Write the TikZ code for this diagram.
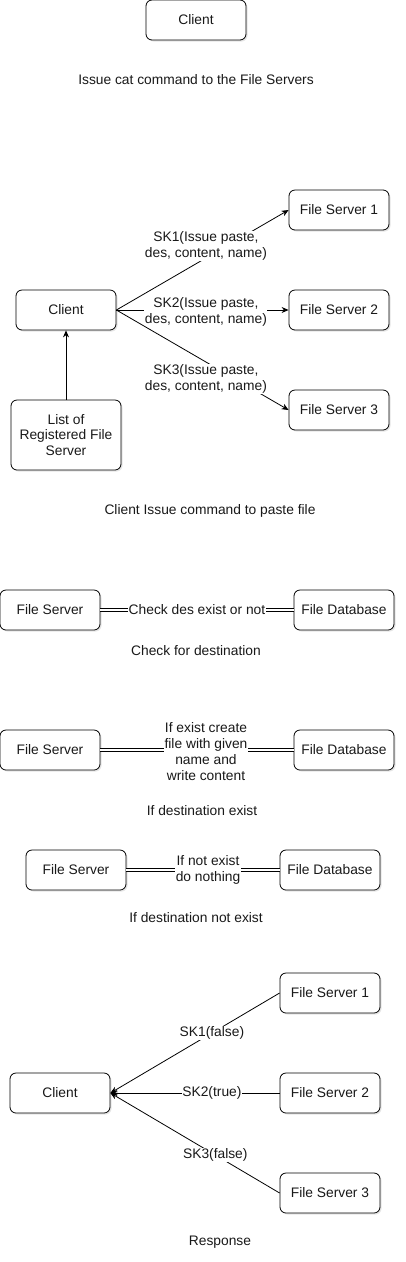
\documentclass[tikz,border=0pt]{standalone}
\usepackage{fontspec}
\setmainfont{Liberation Sans}
\usetikzlibrary{arrows.meta,shadows}
\begin{document}
\begin{tikzpicture}[x=1pt,y=-1pt,
	every node/.style={font=\fontsize{13.8}{15.5}\selectfont,text=black!90},
	box/.style={draw,rounded corners=6pt,minimum width=100pt,minimum height=40pt,fill=white,line width=0.8pt,
		drop shadow={opacity=0.2,shadow xshift=1.5pt,shadow yshift=-1.5pt}},
	lbl/.style={fill=white,inner sep=0.5pt,align=center},
	arr/.style={-{Stealth[length=7pt,width=6pt]},line width=0.8pt},
	link/.style={double,double distance=2pt,line width=0.7pt}]
	\useasboundingbox[fill=white] (0,0) rectangle (406,1262);
	% cat
	\node (cat) at (196,20) [box]{Client};
	\node (catcap) at (196,80) {Issue cat command to the File Servers};
	% paste
	\node (cl) at (66,310) [box]{Client};
	\node (reg) at (66,435) [box,minimum width=110pt,minimum height=70pt,align=center]{List of\\Registered File\\Server};
	\node (fs1) at (339,210) [box]{File Server 1};
	\node (fs2) at (339,310) [box]{File Server 2};
	\node (fs3) at (339,410) [box]{File Server 3};
	\draw[arr] (reg) -- (cl);
	\draw[arr] (cl.east) -- node[lbl,pos=0.52,yshift=12pt]{SK1(Issue paste,\\des, content, name)} (fs1.west);
	\draw[arr] (cl.east) -- node[lbl,pos=0.52,yshift=-2pt]{SK2(Issue paste,\\des, content, name)} (fs2.west);
	\draw[arr] (cl.east) -- node[lbl,pos=0.52,yshift=-17pt]{SK3(Issue paste,\\des, content, name)} (fs3.west);
	\node (pastecap) at (210,511) {Client Issue command to paste file};
	% check
	\node (fsa) at (50,610) [box]{File Server};
	\node (dba) at (344,610) [box]{File Database};
	\draw[link] (fsa) -- node[lbl]{Check des exist or not} (dba);
	\node (checkcap) at (196,651) {Check for destination};
	% exist
	\node (fsb) at (50,750) [box]{File Server};
	\node (dbb) at (344,750) [box]{File Database};
	\draw[link] (fsb) -- node[lbl,xshift=9pt,yshift=-2pt,font=\fontsize{13.8}{16}\selectfont]{If exist create\\file with given\\name and\\write content} (dbb);
	\node (existcap) at (202,811) {If destination exist};
	% not exist
	\node (fsc) at (76,870) [box]{File Server};
	\node (dbc) at (330,870) [box]{File Database};
	\draw[link] (fsc) -- node[lbl,xshift=5pt]{If not exist\\do nothing} (dbc);
	\node (notcap) at (196,918) {If destination not exist};
	% response
	\node (rc) at (60,1093) [box]{Client};
	\node (r1) at (330,993) [box]{File Server 1};
	\node (r2) at (330,1093) [box]{File Server 2};
	\node (r3) at (330,1193) [box]{File Server 3};
	\draw[arr] (r1.west) -- node[lbl,pos=0.4]{SK1(false)} (rc.east);
	\draw[arr] (r2.west) -- node[lbl,pos=0.4]{SK2(true)} (rc.east);
	\draw[arr] (r3.west) -- node[lbl,pos=0.38]{SK3(false)} (rc.east);
	\node (respcap) at (220,1242) {Response};
\end{tikzpicture}
\end{document}
